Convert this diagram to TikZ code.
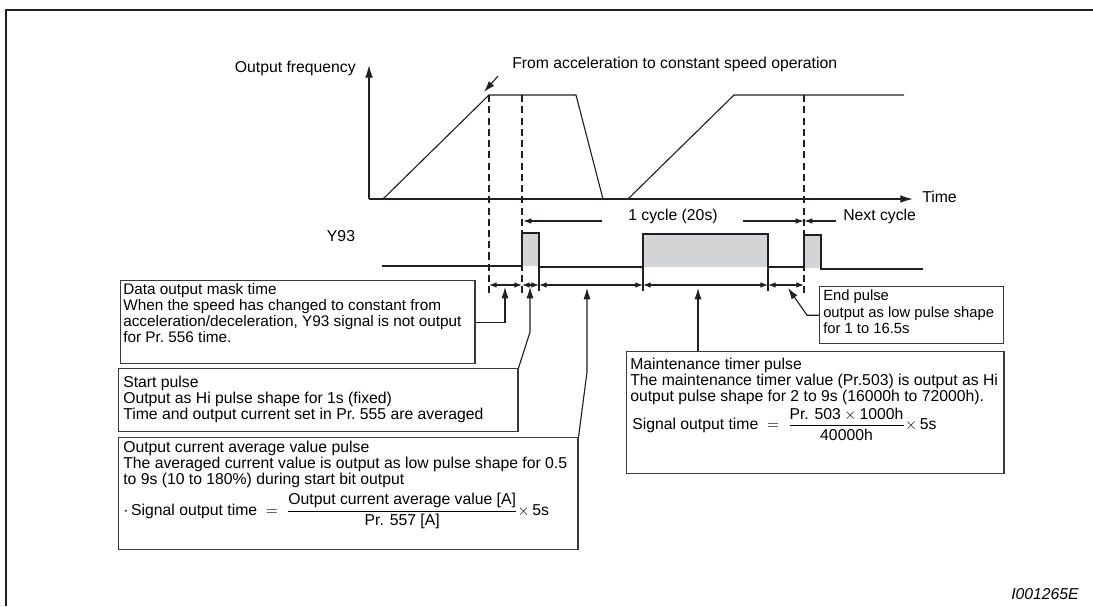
\documentclass[tikz,border=0pt]{standalone}
\usepackage{amsmath}
\usepackage{fontspec}
\setmainfont{Liberation Sans}
\usetikzlibrary{arrows.meta,positioning,calc}
\definecolor{Ink}{HTML}{231F20}
\definecolor{BoxLine}{HTML}{3A3A3A}
\definecolor{PulseGray}{HTML}{D3D4D5}
\tikzset{
 sig/.style={draw=Ink, line width=0.8pt},
 axis/.style={draw=Ink, line width=0.9pt, -{Latex[length=9pt,width=5.5pt]}},
 guide/.style={draw=Ink, line width=0.8pt, dash pattern=on 5pt off 3pt},
 dim/.style={draw=Ink, line width=0.8pt, {Latex[length=5.5pt,width=4pt]}-{Latex[length=5.5pt,width=4pt]}},
 onehead/.style={draw=Ink, line width=0.8pt, -{Latex[length=6pt,width=4pt]}},
 callout/.style={draw=Ink, line width=0.8pt, -{Latex[length=8pt,width=5pt]}},
 box/.style={draw=BoxLine, line width=1pt, anchor=north west, inner sep=0pt},
 boxtext/.style={anchor=north west, inner sep=0pt, align=left, font=\fontsize{11.2}{11.4}\selectfont},
 lbl/.style={inner sep=0pt, font=\fontsize{11.2}{11.4}\selectfont}
}

\begin{document}
\begin{tikzpicture}[x=0.025cm, y=-0.025cm]
\useasboundingbox (0,0) rectangle (1093,606);
\draw[line width=1.4pt, Ink] (6,606) -- (6,10) -- (1093,10);

% axes
\coordinate (origin) at (369,199);
\draw[axis] (origin) -- (369,65);
\draw[axis] (origin) -- (913,199);
\node[lbl, anchor=east] (freqlbl) at (356,68) {Output frequency};
\node[lbl, anchor=west] (timelbl) at (922,197) {Time};

% output frequency
\draw[sig] (383,199) -- (489,95) -- (576,95) -- (603,199);
\draw[sig] (628,199) -- (734,95) -- (904,95);
\node[lbl, anchor=west] (fromlbl) at (512,64) {From acceleration to constant speed operation};
\coordinate (fromtail) at (498,76);
\coordinate (fromtip) at (484,92);
\draw[callout] (fromtail) -- (fromtip);

% guide lines
\foreach \x in {489,522,804}
  \draw[guide] (\x,95) -- (\x,296);

% Y93 signal
\node[lbl] (ylbl) at (341,236) {Y93};
\fill[PulseGray] (522,233) rectangle (539,266);
\fill[PulseGray] (643,234) rectangle (768,267);
\fill[PulseGray] (804,235) rectangle (821,268);
\draw[sig] (382,266) -- (522,266) -- (522,233) -- (539,233) -- (539,267)
  -- (643,267) -- (643,234) -- (768,234) -- (768,267) -- (804,267)
  -- (804,235) -- (821,235) -- (821,269) -- (923,269);

% cycle
\node[lbl] (cyclbl) at (673,216) {1 cycle (20s)};
\draw[onehead] (602,221) -- (523,221);
\draw[onehead] (743,221) -- (804,221);
\draw[onehead] (836,221) -- (804,221);
\node[lbl, anchor=west] (nextlbl) at (843,216) {Next cycle};

% time spans
\foreach \x in {539,643,768}
  \draw[sig] (\x,266) -- (\x,291);
\foreach \a/\b in {489/522,522/539,539/643,643/768,768/804}
  \draw[dim] (\a,285) -- (\b,285);

% boxes
\node[box, minimum width=8.85cm, minimum height=2.075cm] (maskbox) at (120,280) {};
\node[boxtext, font=\fontsize{10.9}{11.4}\selectfont] (masktxt) at ($(maskbox.north west)+(3,3)$) {Data output mask time\\
When the speed has changed to constant from\\
acceleration/deceleration, Y93 signal is not output\\
for Pr.~556 time.};

\node[box, minimum width=9.975cm, minimum height=1.575cm] (startbox) at (118,368) {};
\node[boxtext] (starttxt) at ($(startbox.north west)+(5,8)$) {Start pulse\\
Output as Hi pulse shape for 1s (fixed)\\
Time and output current set in Pr.~555 are averaged};

\node[box, minimum width=11.475cm, minimum height=2.8cm] (avgbox) at (118,437) {};
\node[boxtext] (avgtxt) at ($(avgbox.north west)+(5,4)$) {Output current average value pulse\\
The averaged current value is output as low pulse shape for 0.5\\
to 9s (10 to 180\%) during start bit output};
\node[lbl, anchor=west] (avgeq) at (123,511) {·\,Signal output time\ \ $=$\ \ $\dfrac{\text{Output current average value [A]}}{\text{Pr. 557 [A]}}\times$\,5s};

\node[box, minimum width=9.425cm, minimum height=3.05cm] (maintbox) at (626,351) {};
\node[boxtext] (mainttxt) at ($(maintbox.north west)+(4,7)$) {Maintenance timer pulse\\
The maintenance timer value (Pr.503) is output as Hi\\
output pulse shape for 2 to 9s (16000h to 72000h).};
\node[lbl, anchor=west] (mainteq) at (632,424) {Signal output time\ \ $=$\ \ $\dfrac{\text{Pr. 503}\times\text{1000h}}{\text{40000h}}\times$\,5s};

\node[box, minimum width=4.6cm, minimum height=1.425cm] (endbox) at (819,286) {};
\node[boxtext, font=\fontsize{10.5}{11.4}\selectfont] (endtxt) at ($(endbox.north west)+(4,4)$) {End pulse\\
output as low pulse shape\\
for 1 to 16.5s};

% callouts
\coordinate (masktip) at (505,287);
\coordinate (starttip) at (530,287);
\coordinate (avgtip) at (587,288);
\coordinate (mainttip) at (698,288);
\coordinate (endtip) at (788,288);
\draw[callout] (maskbox.east) -| (masktip);
\draw[callout] (startbox.north east) -- (530,332) -- (starttip);
\draw[callout] (avgbox.north east) -- (587,372) -- (avgtip);
\draw[callout] (mainttip |- maintbox.north) -- (mainttip);
\draw[callout] (endbox.west) -- ++(-12,0) -- (endtip);

\node[lbl, anchor=east, font=\fontsize{11.2}{11.4}\selectfont\itshape] (figid) at (1079,594) {I001265E};
\end{tikzpicture}
\end{document}
